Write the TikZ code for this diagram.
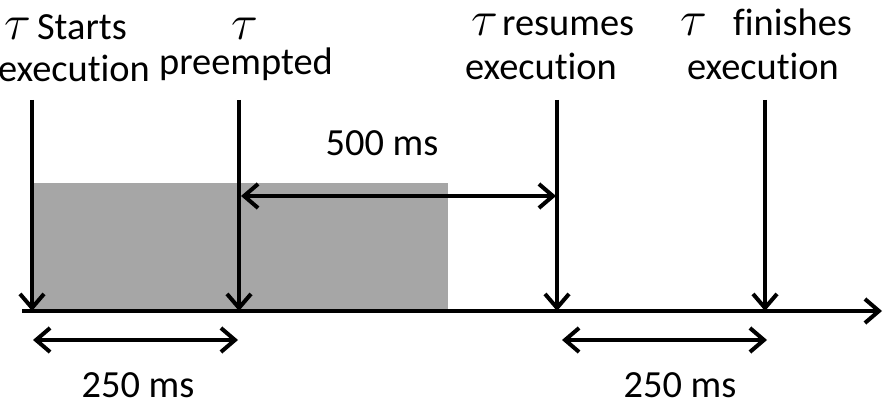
\documentclass[tikz,border=0pt]{standalone}
\usepackage{fontspec}
\setmainfont{Carlito}[Ligatures=NoCommon]
\usetikzlibrary{arrows.meta}
\definecolor{busy}{HTML}{A6A6A6}
\newcommand{\tauglyph}{{\fontsize{31}{34}\selectfont$\tau$}}

\begin{document}
\begin{tikzpicture}[x=0.5pt,y=-0.5pt,
    lbl/.style={inner sep=0pt,font=\fontsize{19.2}{22}\selectfont},
    evt/.style={line width=2pt,-{Straight Barb[length=7pt,width=12pt]}},
    span/.style={line width=2pt,{Straight Barb[length=7pt,width=12pt]}-{Straight Barb[length=7pt,width=12pt]}}]
                      \useasboundingbox (0,0) rectangle (883,405);

                      % Busy interval
                      \fill[busy] (31,183) rectangle (448,311);

                      % Time axis
                      \coordinate (axL) at (22,311);
                      \coordinate (axR) at (882,311);
                      \draw[evt] (axL) -- (axR);

                  % Events
                  \coordinate (tStart) at (32,311);
                  \coordinate (tPre) at (239,311);
                  \coordinate (tRes) at (557,311);
                  \coordinate (tFin) at (765,311);
                  \foreach \ev in {tStart,tPre,tRes,tFin}
                    \draw[evt] (\ev) ++(0,-211) coordinate (\ev top) -- (\ev);

                      % Labels
                      \node[lbl,anchor=base west] (startA) at (4,40) {\tauglyph\hspace{3pt}Starts};
                      \node[lbl,anchor=base] (startB) at (74,82) {execution};
                      \node[lbl,anchor=base] (preA) at (245,40) {\tauglyph};
                      \node[lbl,anchor=base] (preB) at (246,75) {preempted};
                      \node[lbl,anchor=base west] (resA) at (471,36) {\tauglyph\hspace{2pt}resumes};
                      \node[lbl,anchor=base] (resB) at (541,80) {execution};
                      \node[lbl,anchor=base west] (finA) at (680,36) {\tauglyph\hspace{13pt}finishes};
                      \node[lbl,anchor=base] (finB) at (763,80) {execution};

                      % Intervals
                      \coordinate (waitL) at (241,196);
                      \coordinate (waitR) at (556,196);
                      \draw[span] (waitL) -- (waitR);
                      \node[lbl,anchor=base] (wait) at (382,156) {500 ms};

                      \coordinate (runAL) at (33,340);
                      \coordinate (runAR) at (238,340);
                      \draw[span] (runAL) -- (runAR);
                      \node[lbl,anchor=base] (runA) at (138,398) {250 ms};

                      \coordinate (runBL) at (562,340);
                      \coordinate (runBR) at (767,340);
                      \draw[span] (runBL) -- (runBR);
                      \node[lbl,anchor=base] (runB) at (680,398) {250 ms};
                    \end{tikzpicture}
\end{document}
